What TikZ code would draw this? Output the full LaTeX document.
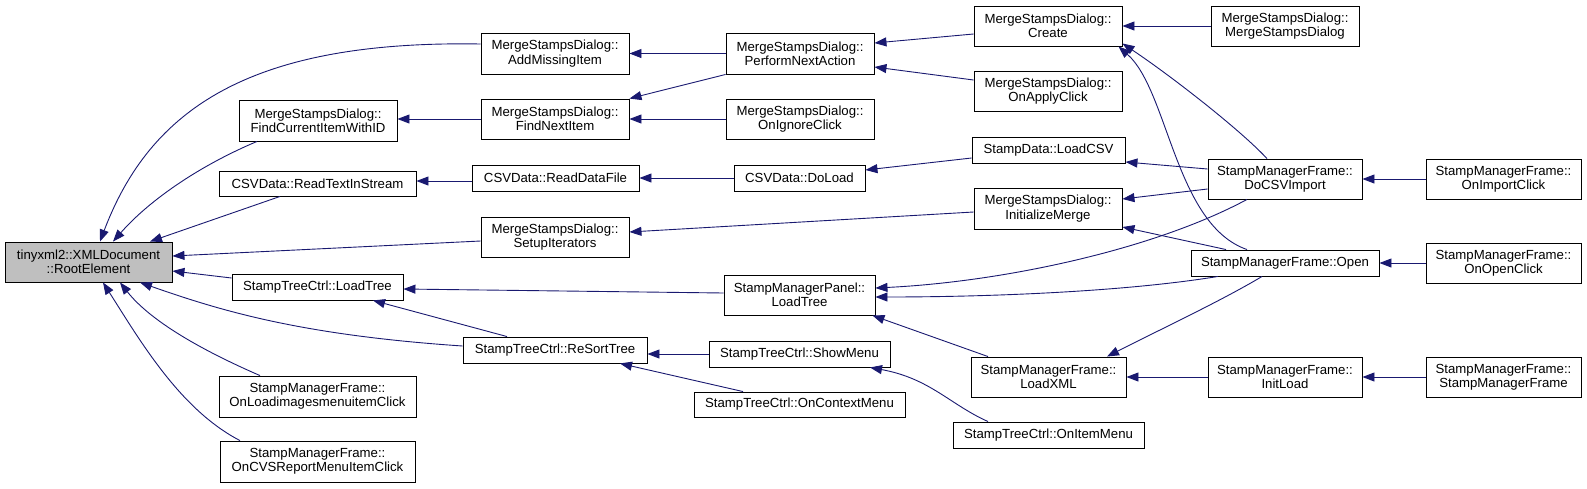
\documentclass[tikz,border=0pt]{standalone}
\usepackage{fontspec}
\setmainfont{Liberation Sans}
\usetikzlibrary{arrows.meta,calc}
\definecolor{edgeblue}{HTML}{191970}
\definecolor{rootgray}{HTML}{BFBFBF}
\begin{document}
\begin{tikzpicture}[x=1pt,y=-1pt,
  box/.style={draw=black, line width=0.9pt, fill=white, inner sep=0pt, align=center,
    font=\fontsize{13.2}{14.3}\selectfont},
  rootbox/.style={box, fill=rootgray},
  edge/.style={draw=edgeblue, line width=0.9pt, -{Triangle[length=12pt,width=9pt]}}]
\useasboundingbox (0,0) rectangle (1587,488);
% column 1
\node[rootbox, minimum width=167pt, minimum height=40pt] (root) at (88.5,262) {tinyxml2::XMLDocument\\::RootElement};
% column 2
\node[box, minimum width=158pt, minimum height=41pt] (fcurrent) at (318,120.5) {MergeStampsDialog::\\FindCurrentItemWithID};
\node[box, minimum width=197pt, minimum height=25pt] (readtext) at (317.5,183.5) {CSVData::ReadTextInStream};
\node[box, minimum width=171pt, minimum height=26pt] (stcload) at (317.5,287) {StampTreeCtrl::LoadTree};
\node[box, minimum width=197pt, minimum height=41pt] (onloadimg) at (317.5,396.5) {StampManagerFrame::\\OnLoadimagesmenuitemClick};
\node[box, minimum width=195pt, minimum height=41pt] (oncvs) at (317.5,461.5) {StampManagerFrame::\\OnCVSReportMenuItemClick};
% column 3
\node[box, minimum width=148pt, minimum height=41pt] (addmissing) at (555,53.5) {MergeStampsDialog::\\AddMissingItem};
\node[box, minimum width=148pt, minimum height=40pt] (findnext) at (555,119) {MergeStampsDialog::\\FindNextItem};
\node[box, minimum width=167pt, minimum height=26pt] (readdata) at (555.5,178) {CSVData::ReadDataFile};
\node[box, minimum width=148pt, minimum height=40pt] (setupit) at (555,237) {MergeStampsDialog::\\SetupIterators};
\node[box, minimum width=184pt, minimum height=26pt] (resort) at (555,350) {StampTreeCtrl::ReSortTree};
% column 4
\node[box, minimum width=148pt, minimum height=41pt] (perform) at (800,53.5) {MergeStampsDialog::\\PerformNextAction};
\node[box, minimum width=148pt, minimum height=40pt] (onignore) at (800,119) {MergeStampsDialog::\\OnIgnoreClick};
\node[box, minimum width=131pt, minimum height=26pt] (doload) at (799.5,178) {CSVData::DoLoad};
\node[box, minimum width=151pt, minimum height=40pt] (smpload) at (799.5,295) {StampManagerPanel::\\LoadTree};
\node[box, minimum width=181pt, minimum height=26pt] (showmenu) at (799.5,354) {StampTreeCtrl::ShowMenu};
\node[box, minimum width=211pt, minimum height=25pt] (oncontext) at (799.5,404.5) {StampTreeCtrl::OnContextMenu};
% column 5
\node[box, minimum width=148pt, minimum height=40pt] (create) at (1048,26) {MergeStampsDialog::\\Create};
\node[box, minimum width=148pt, minimum height=40pt] (onapply) at (1048,91) {MergeStampsDialog::\\OnApplyClick};
\node[box, minimum width=153pt, minimum height=26pt] (loadcsv) at (1048.5,150) {StampData::LoadCSV};
\node[box, minimum width=148pt, minimum height=41pt] (initmerge) at (1048,208.5) {MergeStampsDialog::\\InitializeMerge};
\node[box, minimum width=155pt, minimum height=40pt] (loadxml) at (1048.5,377) {StampManagerFrame::\\LoadXML};
\node[box, minimum width=191pt, minimum height=26pt] (onitemmenu) at (1048.5,435) {StampTreeCtrl::OnItemMenu};
% column 6
\node[box, minimum width=148pt, minimum height=40pt] (msdctor) at (1285,26) {MergeStampsDialog::\\MergeStampsDialog};
\node[box, minimum width=154pt, minimum height=40pt] (docsv) at (1285,179) {StampManagerFrame::\\DoCSVImport};
\node[box, minimum width=188pt, minimum height=26pt] (open) at (1285,263) {StampManagerFrame::Open};
\node[box, minimum width=154pt, minimum height=40pt] (initload) at (1285,377) {StampManagerFrame::\\InitLoad};
% column 7
\node[box, minimum width=155pt, minimum height=40pt] (onimport) at (1503.5,179) {StampManagerFrame::\\OnImportClick};
\node[box, minimum width=155pt, minimum height=40pt] (onopen) at (1503.5,263) {StampManagerFrame::\\OnOpenClick};
\node[box, minimum width=155pt, minimum height=40pt] (smfctor) at (1503.5,377) {StampManagerFrame::\\StampManagerFrame};
% edges into RootElement
\draw[edge] ([shift={(0,-9.5)}]addmissing.west) .. controls +(-231,-4) and +(50,-132) .. ([shift={(11.5,0)}]root.north);
\draw[edge] ([shift={(-61,0)}]fcurrent.south) .. controls +(-57,24) and +(37,-42) .. ([shift={(24.5,0)}]root.north);
\draw[edge] ([shift={(-37.5,0)}]readtext.south) -- ([shift={(61.5,0)}]root.north);
\draw[edge] ([shift={(0,4)}]setupit.west) -- ([shift={(0,-6)}]root.east);
\draw[edge] ([shift={(0,-9)}]stcload.west) -- ([shift={(0,9)}]root.east);
\draw[edge] ([shift={(0,-4)}]resort.west) .. controls +(-163,-11) and +(80,28) .. ([shift={(51.5,0)}]root.south);
\draw[edge] ([shift={(-57.5,0)}]onloadimg.north) .. controls +(-60,-26) and +(30,38) .. ([shift={(31.5,0)}]root.south);
\draw[edge] ([shift={(-77.5,0)}]oncvs.north) .. controls +(-60,-31) and +(37,58) .. ([shift={(14.5,0)}]root.south);
% column 3/4
\draw[edge] (perform.west) -- (addmissing.east);
\draw[edge] (perform.south west) -- (findnext.north east);
\draw[edge] (findnext.west) -- (findnext.west -| fcurrent.east);
\draw[edge] (onignore.west) -- (findnext.east);
\draw[edge] ([shift={(0,3)}]readdata.west) -- ([shift={(0,-2.5)}]readtext.east);
\draw[edge] (doload.west) -- (readdata.east);
\draw[edge] ([shift={(0,8)}]loadcsv.west) -- ([shift={(0,-8)}]doload.east);
\draw[edge] ([shift={(0,3.5)}]initmerge.west) -- ([shift={(0,-5)}]setupit.east);
\draw[edge] ([shift={(0,8)}]create.west) -- ([shift={(0,-10.5)}]perform.east);
\draw[edge] ([shift={(0,-11)}]onapply.west) -- ([shift={(0,13.5)}]perform.east);
\draw[edge] (msdctor.west) -- (create.east);
\draw[edge] ([shift={(-18,0)}]docsv.north) .. controls +(-27,-29) and +(48,32) .. ([shift={(0,-3)}]create.south east);
\draw[edge] ([shift={(-38,0)}]open.north) .. controls +(-72,-25) and +(50,44) .. ([shift={(-4,0)}]create.south east);
\draw[edge] ([shift={(0,-10)}]docsv.west) -- ([shift={(0,12)}]loadcsv.east);
\draw[edge] ([shift={(0,10)}]docsv.west) -- ([shift={(0,-9.5)}]initmerge.east);
\draw[edge] (onimport.west) -- (docsv.east);
\draw[edge] ([shift={(-38,0)}]docsv.south) .. controls +(-95,51) and +(125,-6) .. ([shift={(0,-7)}]smpload.east);
\draw[edge] ([shift={(-67,0)}]open.south) .. controls +(-98,16) and +(105,0) .. ([shift={(0,2)}]smpload.east);
\draw[edge] ([shift={(-59,0)}]open.north) -- ([shift={(0,18.5)}]initmerge.east);
\draw[edge] ([shift={(-23,0)}]open.south) .. controls +(-40,24) and +(53,-27) .. ([shift={(58.5,0)}]loadxml.north);
\draw[edge] ([shift={(-60.5,0)}]loadxml.north) -- ([shift={(-3,0)}]smpload.south east);
\draw[edge] (initload.west) -- (loadxml.east);
\draw[edge] (smfctor.west) -- (initload.east);
\draw[edge] (onopen.west) -- (open.east);
\draw[edge] ([shift={(0,-2)}]smpload.west) -- ([shift={(0,2)}]stcload.east);
\draw[edge] ([shift={(-48,0)}]resort.north) -- ([shift={(55.5,0)}]stcload.south);
\draw[edge] (showmenu.west) -- (showmenu.west -| resort.east);
\draw[edge] ([shift={(-56.5,0)}]oncontext.north) -- ([shift={(65,0)}]resort.south);
\draw[edge] ([shift={(-60.5,0)}]onitemmenu.north) .. controls +(-38,-17) and +(60,11) .. ([shift={(70.5,0)}]showmenu.south);
\end{tikzpicture}
\end{document}
